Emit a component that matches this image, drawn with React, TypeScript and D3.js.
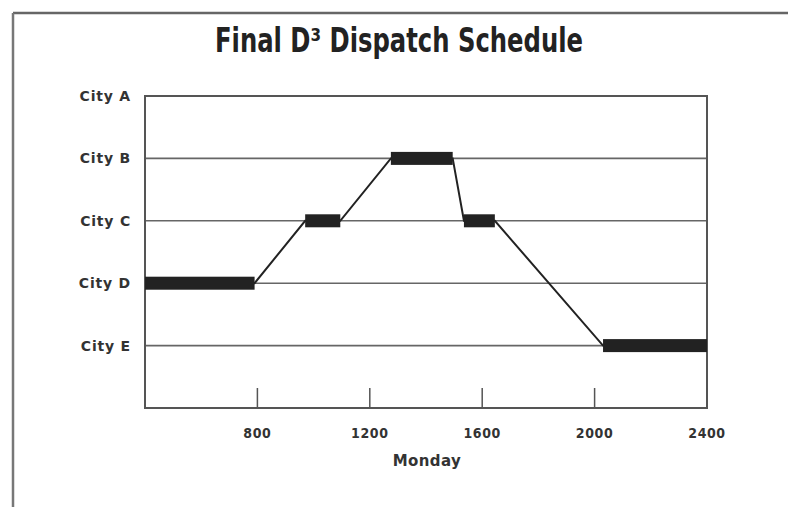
import React from "react";
import * as d3 from "d3";

const cities = ["City A", "City B", "City C", "City D", "City E"];
const xTicks = [800, 1200, 1600, 2000, 2400];
const xDomain = [400, 2400];
const stopCity = ["City D", "City C", "City B", "City C", "City E"];
const stopStart = [400, 970, 1275, 1535, 2030];
const stopEnd = [790, 1095, 1495, 1645, 2400];
const title = "Final D\u00B3 Dispatch Schedule";
const xLabel = "Monday";

const W = 788;
const H = 507;
const left = 145;
const right = 707;
const top = 96;
const bottom = 408;

export default function App() {
  const x = d3.scaleLinear().domain(xDomain).range([left, right]);
  const yIdx = d3.scaleLinear().domain([0, cities.length]).range([top, bottom]);
  const y = (c: string) => yIdx(cities.indexOf(c));

  const pts: [number, number][] = [];
  stopCity.forEach((c, i) => {
    pts.push([x(stopStart[i]), y(c)]);
    pts.push([x(stopEnd[i]), y(c)]);
  });
  const line = d3.line()(pts) || "";

  return (
    <svg width={W} height={H} style={{ position: "absolute", left: 0, top: 0, background: "#fff" }}>
      <rect x={0} y={0} width={W} height={H} fill="#fff" />
      {/* outer frame */}
      <line x1={13} y1={13} x2={W} y2={13} stroke="#666" strokeWidth={2.5} />
      <line x1={13} y1={13} x2={13} y2={H} stroke="#777" strokeWidth={2.5} />

      <text
        x={215}
        y={52}
        textLength={368}
        lengthAdjust="spacingAndGlyphs"
        fontFamily="'DejaVu Sans Condensed', 'DejaVu Sans'"
        fontWeight="bold"
        fontSize={33}
        fill="#222"
      >
        {title}
      </text>

      {/* gridlines */}
      {cities.slice(1).map((c) => (
        <line key={c} x1={left} x2={right} y1={y(c)} y2={y(c)} stroke="#666" strokeWidth={1.6} />
      ))}

      {/* plot frame */}
      <path
        d={`M${left},${bottom}V${top}H${right}V${bottom}Z`}
        fill="none"
        stroke="#555"
        strokeWidth={2}
      />

      {/* x ticks */}
      {xTicks.map((t) => (
        <g key={t}>
          <line x1={x(t)} x2={x(t)} y1={bottom} y2={bottom - 20} stroke="#555" strokeWidth={1.5} />
          <text
            x={x(t)}
            y={438}
            textAnchor="middle"
            fontFamily="'DejaVu Sans Condensed', 'DejaVu Sans'"
            fontWeight="bold"
            fontSize={14}
            letterSpacing={0.6}
            fill="#333"
          >
            {t}
          </text>
        </g>
      ))}
      <text
        x={427}
        y={466}
        textAnchor="middle"
        fontFamily="'DejaVu Sans'"
        fontWeight="bold"
        fontSize={15}
        letterSpacing={0.4}
        fill="#333"
      >
        {xLabel}
      </text>

      {/* y labels */}
      {cities.map((c) => (
        <text
          key={c}
          x={131}
          y={y(c) + 5}
          textAnchor="end"
          fontFamily="'DejaVu Sans'"
          fontWeight="bold"
          fontSize={14}
          letterSpacing={0.8}
          fill="#333"
        >
          {c}
        </text>
      ))}

      {/* connector line */}
      <path d={line} fill="none" stroke="#222" strokeWidth={2} />

      {/* stop bars */}
      {stopCity.map((c, i) => (
        <rect
          key={i}
          x={x(stopStart[i])}
          y={y(c) - 6.5}
          width={x(stopEnd[i]) - x(stopStart[i])}
          height={13}
          fill="#222"
        />
      ))}
    </svg>
  );
}
